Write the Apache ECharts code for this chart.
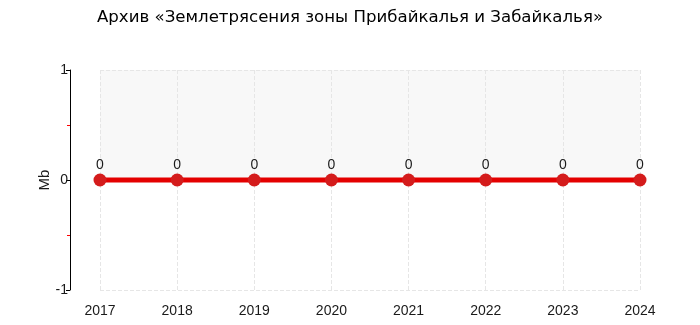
<!DOCTYPE html>
<html><head><meta charset="utf-8">
<script src="https://cdn.jsdelivr.net/npm/echarts@6/dist/echarts.min.js"></script>
<style>html,body{margin:0;padding:0;background:#fff}#c{width:700px;height:325px}</style>
</head><body><div id="c"></div>
<script>
const titleText = 'Архив «Землетрясения зоны Прибайкалья и Забайкалья»';
const categories = ['2017','2018','2019','2020','2021','2022','2023','2024'];
const values = [0,0,0,0,0,0,0,0];
const yName = 'Mb';
const chart = echarts.init(document.getElementById('c'), null, {renderer:'canvas'});
const F = 'DejaVu Sans';
const L = 'Liberation Sans';
chart.setOption({
  animation:false,
  title:{text:titleText,left:'center',top:4,textStyle:{fontFamily:F,fontSize:16.6,fontWeight:'normal',color:'#000'}},
  grid:{left:100,right:60,top:70,bottom:35},
  xAxis:{type:'category',data:categories,boundaryGap:false,offset:10,
    axisLine:{lineStyle:{color:'#000',width:1}},
    axisTick:{alignWithLabel:true,inside:true,length:3,lineStyle:{color:'#000'}},
    axisLabel:{fontFamily:L,fontSize:14,color:'#1a1a1a',margin:4},
    splitLine:{show:true,lineStyle:{color:'#e6e6e6',type:'dashed'}}},
  yAxis:{type:'value',min:-1,max:1,interval:1,offset:30,name:yName,nameLocation:'middle',nameGap:18,
    nameMoveOverlap:false,
    nameTextStyle:{fontFamily:L,fontSize:15,color:'#1a1a1a'},
    axisLine:{show:true,lineStyle:{color:'#000',width:1}},
    axisTick:{show:true,length:4,lineStyle:{color:'#000'}},
    minorTick:{show:true,splitNumber:2,length:3,lineStyle:{color:'#ff0000',width:1}},
    axisLabel:{fontFamily:L,fontSize:14,color:'#1a1a1a',margin:2},
    splitLine:{show:true,lineStyle:{color:'#e6e6e6',type:'dashed'}},
    splitArea:{show:true,areaStyle:{color:['rgba(255,255,255,0)','#f8f8f8']}}},
  series:[{type:'line',data:values,symbol:'circle',symbolSize:13,
    lineStyle:{color:'#e40000',width:5},
    itemStyle:{color:'#d41c1c'},
    label:{show:true,position:'top',distance:1,fontFamily:L,fontSize:14,color:'#1a1a1a'}}]
});
</script></body></html>
